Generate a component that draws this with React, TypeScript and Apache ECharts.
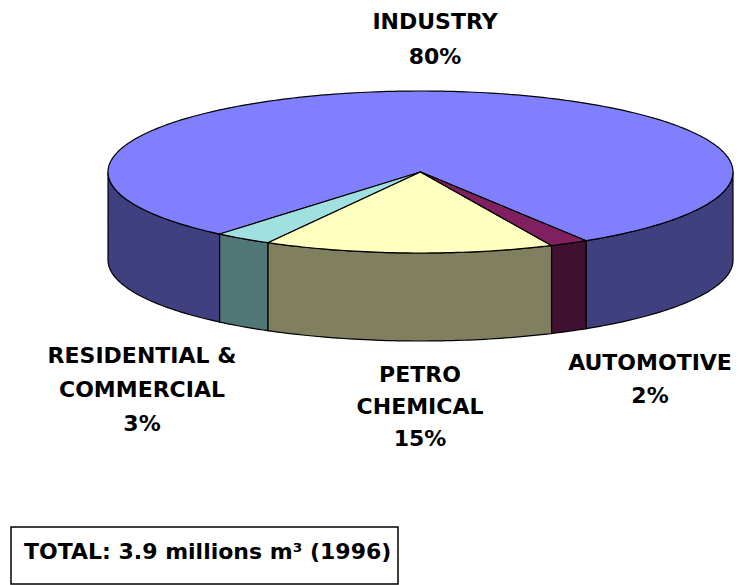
import React, { useEffect, useRef } from "react";
import * as echarts from "echarts";

const categories = ["INDUSTRY", "RESIDENTIAL & COMMERCIAL", "PETRO CHEMICAL", "AUTOMOTIVE"];
const labelLines = [["INDUSTRY"], ["RESIDENTIAL &", "COMMERCIAL"], ["PETRO", "CHEMICAL"], ["AUTOMOTIVE"]];
const values = [80, 3, 15, 2];
const topColors = ["#8080FF", "#A0E0E0", "#FFFFC0", "#802060"];
const sideColors = ["#404080", "#507676", "#808060", "#401030"];
const totalText = "TOTAL: 3.9 millions m\u00B3 (1996)";

// geometry (layout)
const CX = 420.5;
const CY = 172;
const RX = 312.5;
const RY = 81;
const DEPTH = 88;
const START_T = 418; // degrees, parametric angle, slices go counter-clockwise on screen

const labelPos = [
  { x: 435, y: 38.5, lh: 35 },
  { x: 142, y: 389, lh: 34 },
  { x: 420, y: 406, lh: 32 },
  { x: 650, y: 378.5, lh: 33 },
];

const FONT = "DejaVu Sans";
const FS = 22;

function pt(tDeg: number, dy = 0): number[] {
  const t = (tDeg * Math.PI) / 180;
  return [CX + RX * Math.cos(t), CY + RY * Math.sin(t) + dy];
}

function arcPts(a: number, b: number, dy = 0): number[][] {
  const pts: number[][] = [];
  const n = Math.max(2, Math.ceil(Math.abs(b - a)));
  for (let i = 0; i <= n; i++) pts.push(pt(a + ((b - a) * i) / n, dy));
  return pts;
}

export default function App() {
  const ref = useRef<HTMLDivElement>(null);
  useEffect(() => {
    document.body.style.margin = "0";
    const chart = echarts.init(ref.current!, null, { renderer: "svg" });
    const total = values.reduce((s, v) => s + v, 0);

    const renderItem = (params: any, api: any) => {
      const idx = params.dataIndex;
      let before = 0;
      for (let i = 0; i < idx; i++) before += values[i];
      const hi = START_T - (before / total) * 360;
      const lo = hi - (values[idx] / total) * 360;
      const children: any[] = [];
      for (const [fa, fb] of [[0, 180], [360, 540], [-360, -180]]) {
        const a = Math.max(lo, fa);
        const b = Math.min(hi, fb);
        if (b > a) {
          const top = arcPts(a, b);
          const bot = arcPts(b, a, DEPTH);
          children.push({
            type: "polygon",
            z2: 1,
            shape: { points: top.concat(bot) },
            style: { fill: sideColors[idx], stroke: "#000", lineWidth: 1.2 },
          });
        }
      }
      const topPts = [[CX, CY]].concat(arcPts(lo, hi));
      children.push({
        type: "polygon",
        z2: 10,
        shape: { points: topPts },
        style: { fill: topColors[idx], stroke: "#000", lineWidth: 1.2 },
      });
      return { type: "group", children };
    };

    const graphics: any[] = labelLines.map((lines, i) => ({
      type: "text",
      x: labelPos[i].x,
      y: labelPos[i].y,
      style: {
        text: lines.concat([values[i] + "%"]).join("\n"),
        fontFamily: FONT,
        fontWeight: "bold",
        fontSize: FS,
        lineHeight: labelPos[i].lh,
        fill: "#000",
        align: "center",
        verticalAlign: "middle",
      },
    }));
    graphics.push({
      type: "rect",
      shape: { x: 11, y: 527, width: 387, height: 57 },
      style: { fill: "#fff", stroke: "#000", lineWidth: 1.5 },
    });
    graphics.push({
      type: "text",
      x: 24,
      y: 551,
      z: 10,
      style: {
        text: totalText,
        fontFamily: FONT,
        fontWeight: "bold",
        fontSize: FS,
        fill: "#000",
        align: "left",
        verticalAlign: "middle",
      },
    });

    chart.setOption({
      animation: false,
      backgroundColor: "#fff",
      series: [
        {
          type: "custom",
          coordinateSystem: "none",
          renderItem,
          data: values.map((v, i) => ({ name: categories[i], value: [v, i] })),
        },
      ],
      graphic: graphics,
    });
    return () => chart.dispose();
  }, []);
  return <div ref={ref} style={{ width: 739, height: 585 }} />;
}
